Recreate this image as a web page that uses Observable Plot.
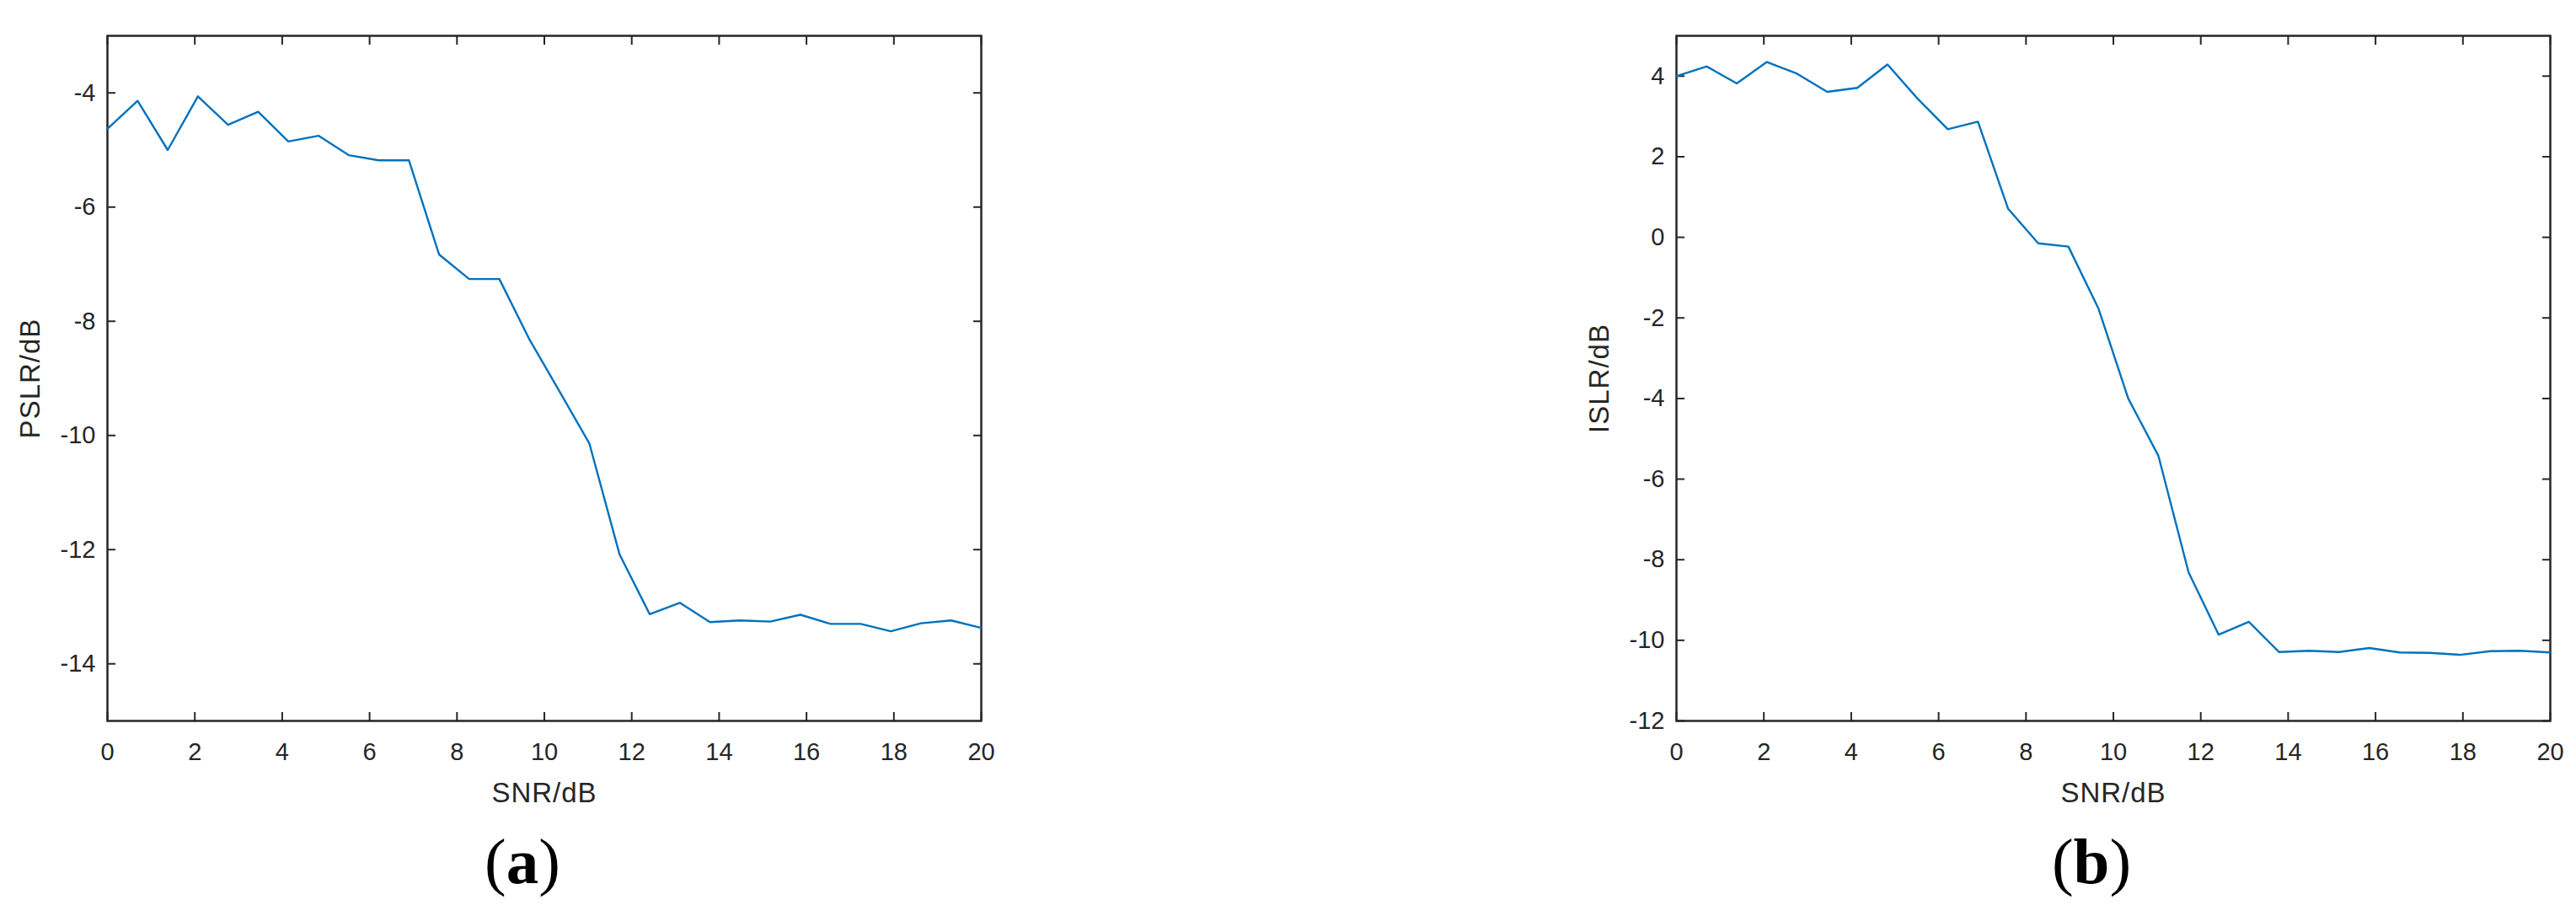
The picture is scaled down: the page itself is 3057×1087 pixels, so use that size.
<!DOCTYPE html>
<html><head><meta charset="utf-8">
<script src="https://cdn.jsdelivr.net/npm/d3@7"></script>
<script src="https://cdn.jsdelivr.net/npm/@observablehq/plot@0.6"></script>
<style>
body{margin:0;background:#fff;width:3057px;height:1087px;position:relative;overflow:hidden}
.panel{position:absolute;top:0}
.cap{position:absolute;font-family:"Liberation Serif","Times New Roman",serif;font-size:77px;line-height:1;color:#000;transform:translateX(-50%);white-space:nowrap}
g[aria-label="text"] text{letter-spacing:1px}
</style></head><body>
<div id="a" class="panel" style="left:0"></div>
<div id="b" class="panel" style="left:1860px"></div>
<div class="cap" style="left:620px;top:984px">(<b>a</b>)</div>
<div class="cap" style="left:2482px;top:984px">(<b>b</b>)</div>
<script>
const snr = [0, 0.69, 1.38, 2.07, 2.76, 3.45, 4.14, 4.83, 5.52, 6.21, 6.90, 7.59, 8.28, 8.97, 9.66,
             10.34, 11.03, 11.72, 12.41, 13.10, 13.79, 14.48, 15.17, 15.86, 16.55, 17.24, 17.93, 18.62, 19.31, 20];
const pslr = [-4.63, -4.14, -5.00, -4.06, -4.56, -4.33, -4.85, -4.75, -5.09, -5.18, -5.18, -6.83, -7.26, -7.26, -8.32,
              -9.22, -10.14, -12.08, -13.13, -12.93, -13.27, -13.24, -13.26, -13.14, -13.30, -13.30, -13.43, -13.29, -13.24, -13.37];
const islr = [4.00, 4.24, 3.82, 4.35, 4.06, 3.61, 3.71, 4.29, 3.44, 2.68, 2.87, 0.71, -0.15, -0.23, -1.77,
              -4.00, -5.42, -8.31, -9.86, -9.54, -10.29, -10.26, -10.29, -10.19, -10.30, -10.31, -10.36, -10.27, -10.26, -10.30];
const xTicks = [0, 2, 4, 6, 8, 10, 12, 14, 16, 18, 20];
const pslrTicks = [-14, -12, -10, -8, -6, -4];
const islrTicks = [-12, -10, -8, -6, -4, -2, 0, 2, 4];
const xLabel = "SNR/dB";
const pslrLabel = "PSLR/dB";
const islrLabel = "ISLR/dB";

const AX = "#262626";
function panel({values, yDomain, yTicks, yLabel, width, marginLeft, marginRight}) {
  const data = snr.map((x, i) => ({x, y: values[i]}));
  return Plot.plot({
    width, height: 970, marginLeft, marginRight, marginTop: 42, marginBottom: 115,
    style: {fontFamily: "'Liberation Sans', Arial, sans-serif", color: AX, background: "white", overflow: "visible"},
    x: {domain: [0, 20]},
    y: {domain: yDomain},
    marks: [
      Plot.axisX(xTicks, {anchor: "bottom", tickSize: -10, tickPadding: 36, fontSize: 29, tickFormat: d => String(d), label: null, strokeWidth: 2}),
      Plot.axisX(xTicks, {anchor: "top", tickSize: -10, tickFormat: () => "", label: null, strokeWidth: 2}),
      Plot.axisY(yTicks, {anchor: "left", tickSize: -10, tickPadding: 24, fontSize: 29, tickFormat: d => String(d), label: null, strokeWidth: 2}),
      Plot.axisY(yTicks, {anchor: "right", tickSize: -10, tickFormat: () => "", label: null, strokeWidth: 2}),
      Plot.frame({stroke: AX, strokeWidth: 2.5}),
      Plot.line(data, {x: "x", y: "y", stroke: "#0072BD", strokeWidth: 2.4}),
      Plot.text([yLabel], {frameAnchor: "left", dx: -104, rotate: -90, textAnchor: "middle", lineAnchor: "top", fontSize: 33, fill: AX}),
      Plot.text([xLabel], {frameAnchor: "bottom", dy: 73, textAnchor: "middle", lineAnchor: "top", fontSize: 33, fill: AX})
    ]
  });
}
document.getElementById("a").append(panel({values: pslr, yDomain: [-15, -3], yTicks: pslrTicks, yLabel: pslrLabel, width: 1200, marginLeft: 127, marginRight: 36}));
document.getElementById("b").append(panel({values: islr, yDomain: [-12, 5], yTicks: islrTicks, yLabel: islrLabel, width: 1197, marginLeft: 129, marginRight: 31}));
</script>
</body></html>
